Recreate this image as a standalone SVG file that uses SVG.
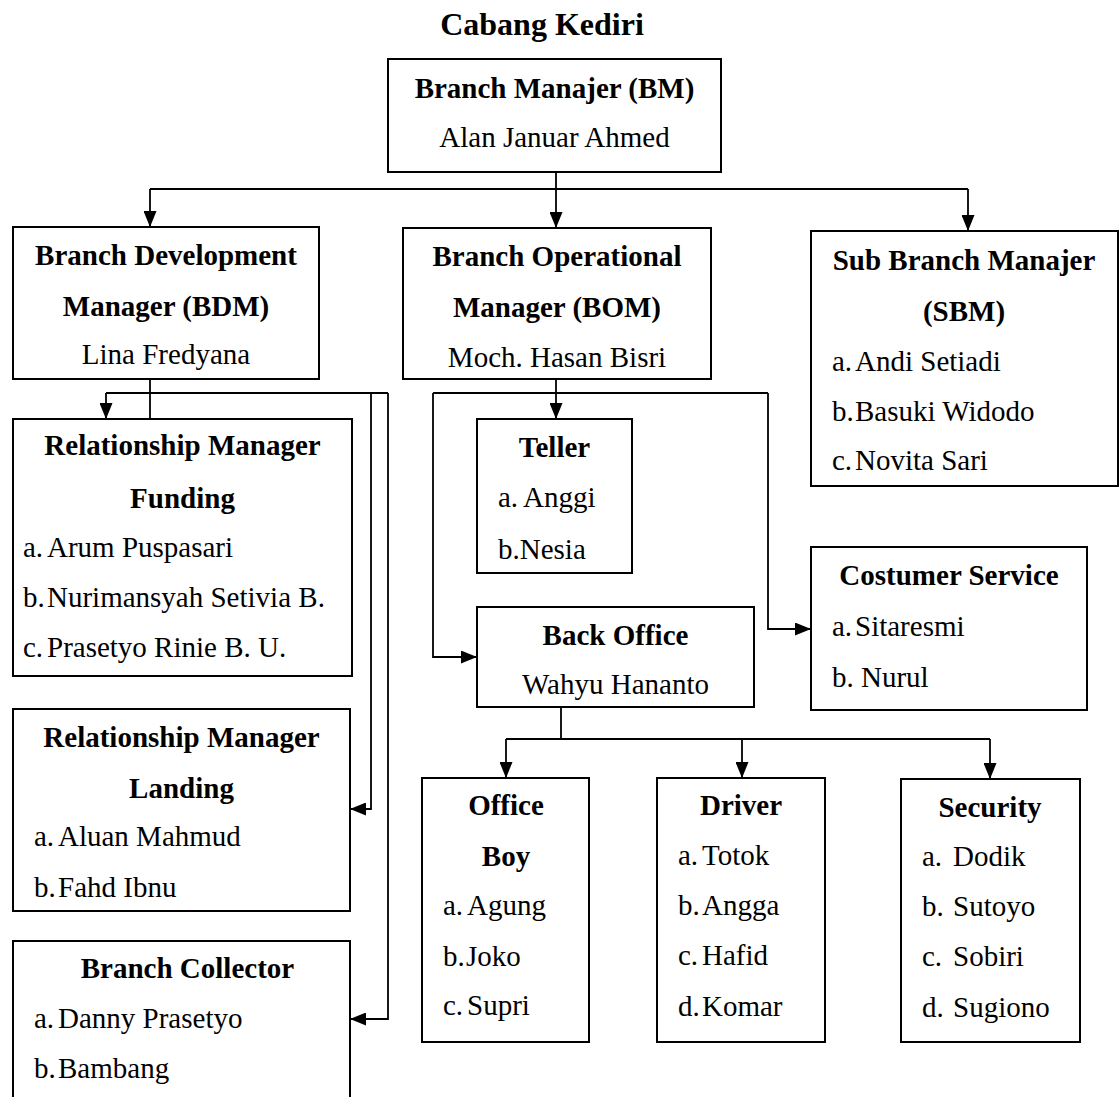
<svg xmlns="http://www.w3.org/2000/svg" width="1120" height="1097" viewBox="0 0 1120 1097">
<defs>
<marker id="arr" markerUnits="userSpaceOnUse" viewBox="0 0 16 13" refX="16" refY="6.5" markerWidth="16" markerHeight="13" orient="auto">
<path d="M0,0 L16,6.5 L0,13 z" fill="#000"/>
</marker>
<style>
text{font-family:"Liberation Serif","Times New Roman",serif;font-size:29px;fill:#000}
.b{font-weight:bold}
.c{text-anchor:middle}
.t{font-size:32px;font-weight:bold;text-anchor:middle}
rect{fill:#fff;stroke:#000;stroke-width:2}
.ln{fill:none;stroke:#000;stroke-width:1.8}
.ar{marker-end:url(#arr)}
</style>
</defs>
<rect x="0" y="0" width="1120" height="1097" style="fill:#fff;stroke:none"/>
<text class="t" x="542" y="35">Cabang Kediri</text>

<g id="connectors">
<path class="ln" d="M556,172 V189 M150,189 H968"/>
<path class="ln ar" d="M150,189 V227"/>
<path class="ln ar" d="M556,189 V228"/>
<path class="ln ar" d="M968,189 V231"/>
<path class="ln" d="M150,379 V419 M106,393 H388"/>
<path class="ln ar" d="M106,393 V419"/>
<path class="ln ar" d="M371,393 V809 H350"/>
<path class="ln ar" d="M388,393 V1019 H350"/>
<path class="ln ar" d="M556,379 V419"/>
<path class="ln" d="M433,393 H768"/>
<path class="ln ar" d="M433,393 V657 H477"/>
<path class="ln ar" d="M768,393 V629 H811"/>
<path class="ln" d="M561,707 V739 M506,739 H990"/>
<path class="ln ar" d="M506,739 V778"/>
<path class="ln ar" d="M742,739 V778"/>
<path class="ln ar" d="M990,739 V779"/>
</g>

<g id="bm">
<rect x="388" y="59" width="333" height="113"/>
<text class="b c" x="554.5" y="98">Branch Manajer (BM)</text>
<text class="c" x="554.5" y="147">Alan Januar Ahmed</text>
</g>

<g id="bdm">
<rect x="13" y="227" width="306" height="152"/>
<text class="b c" x="166" y="265">Branch Development</text>
<text class="b c" x="166" y="316">Manager (BDM)</text>
<text class="c" x="166" y="364">Lina Fredyana</text>
</g>

<g id="bom">
<rect x="403" y="228" width="308" height="151"/>
<text class="b c" x="557" y="266">Branch Operational</text>
<text class="b c" x="557" y="317">Manager (BOM)</text>
<text class="c" x="557" y="367">Moch. Hasan Bisri</text>
</g>

<g id="sbm">
<rect x="811" y="231" width="307" height="255"/>
<text class="b c" x="964" y="270">Sub Branch Manajer</text>
<text class="b c" x="964" y="321">(SBM)</text>
<text x="832" y="371">a.<tspan x="855">Andi Setiadi</tspan></text>
<text x="832" y="421">b.<tspan x="855">Basuki Widodo</tspan></text>
<text x="832" y="470">c.<tspan x="855">Novita Sari</tspan></text>
</g>

<g id="rm-funding">
<rect x="13" y="419" width="339" height="257"/>
<text class="b c" x="182.5" y="455">Relationship Manager</text>
<text class="b c" x="182.5" y="508">Funding</text>
<text x="23" y="557">a.<tspan x="47">Arum Puspasari</tspan></text>
<text x="23" y="607">b.<tspan x="47">Nurimansyah Setivia B.</tspan></text>
<text x="23" y="657">c.<tspan x="47">Prasetyo Rinie B. U.</tspan></text>
</g>

<g id="rm-landing">
<rect x="13" y="709" width="337" height="202"/>
<text class="b c" x="181.5" y="747">Relationship Manager</text>
<text class="b c" x="181.5" y="798">Landing</text>
<text x="34" y="846">a.<tspan x="58">Aluan Mahmud</tspan></text>
<text x="34" y="897">b.<tspan x="58">Fahd Ibnu</tspan></text>
</g>

<g id="collector">
<rect x="13" y="941" width="337" height="180"/>
<text class="b c" x="187.5" y="978">Branch Collector</text>
<text x="34" y="1028">a.<tspan x="58">Danny Prasetyo</tspan></text>
<text x="34" y="1078">b.<tspan x="58">Bambang</tspan></text>
</g>

<g id="teller">
<rect x="477" y="419" width="155" height="154"/>
<text class="b c" x="554.5" y="457">Teller</text>
<text x="498" y="507">a.<tspan x="523">Anggi</tspan></text>
<text x="498" y="559">b.Nesia</text>
</g>

<g id="back-office">
<rect x="477" y="607" width="277" height="100"/>
<text class="b c" x="615.5" y="645">Back Office</text>
<text class="c" x="615.5" y="694">Wahyu Hananto</text>
</g>

<g id="customer-service">
<rect x="811" y="547" width="276" height="163"/>
<text class="b c" x="949" y="585">Costumer Service</text>
<text x="832" y="636">a.<tspan x="855">Sitaresmi</tspan></text>
<text x="832" y="687">b. Nurul</text>
</g>

<g id="office-boy">
<rect x="422" y="778" width="167" height="264"/>
<text class="b c" x="506" y="815">Office</text>
<text class="b c" x="506" y="866">Boy</text>
<text x="443" y="915">a.<tspan x="467">Agung</tspan></text>
<text x="443" y="966">b.<tspan x="466">Joko</tspan></text>
<text x="443" y="1015">c.<tspan x="467">Supri</tspan></text>
</g>

<g id="driver">
<rect x="657" y="778" width="168" height="264"/>
<text class="b c" x="741" y="815">Driver</text>
<text x="678" y="865">a.<tspan x="702">Totok</tspan></text>
<text x="678" y="915">b.<tspan x="702">Angga</tspan></text>
<text x="678" y="965">c.<tspan x="702">Hafid</tspan></text>
<text x="678" y="1016">d.<tspan x="702">Komar</tspan></text>
</g>

<g id="security">
<rect x="901" y="779" width="179" height="263"/>
<text class="b c" x="990" y="817">Security</text>
<text x="922" y="866">a.<tspan x="953">Dodik</tspan></text>
<text x="922" y="916">b.<tspan x="953">Sutoyo</tspan></text>
<text x="922" y="966">c.<tspan x="953">Sobiri</tspan></text>
<text x="922" y="1017">d.<tspan x="953">Sugiono</tspan></text>
</g>
</svg>
